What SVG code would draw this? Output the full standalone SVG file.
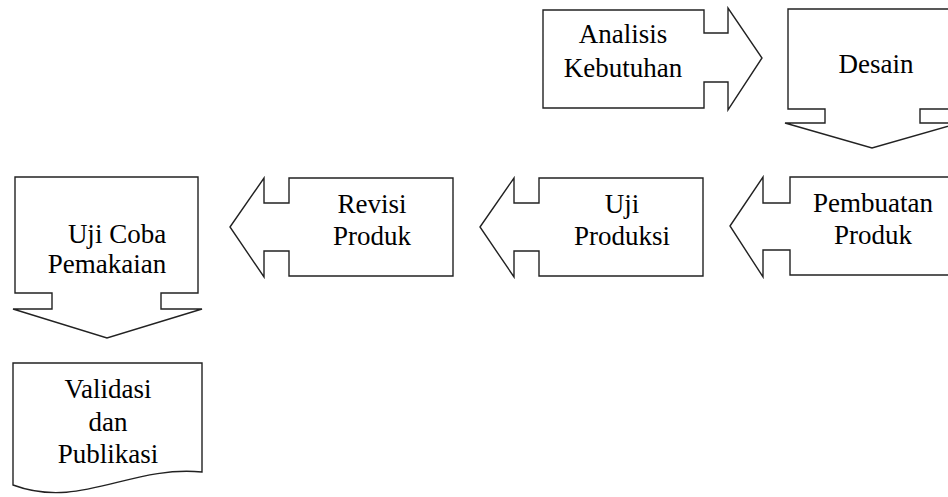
<svg xmlns="http://www.w3.org/2000/svg" width="948" height="497" viewBox="0 0 948 497">
<style>
.s{fill:#fff;stroke:#222;stroke-width:1.4;stroke-linejoin:miter}
.t{font-family:"Liberation Serif","Times New Roman",serif;font-size:27px;fill:#000;text-anchor:middle}
</style>
<rect width="948" height="497" fill="#fff"/>
<g id="connectors"></g>
<g id="analisis">
<path class="s" d="M543,10 H704 V33 H728 V8 L762,58 L728,110 V82 H704 V108 H543 Z"/>
<text class="t" x="623" y="43">Analisis</text>
<text class="t" x="623" y="77">Kebutuhan</text>
</g>
<g id="desain">
<path class="s" d="M788,9 H956 V109 H920 V123 H959 L872,148 L785,123 H825 V109 H788 Z"/>
<text class="t" x="876" y="73">Desain</text>
</g>
<g id="pembuatan">
<path class="s" d="M730,226 L763,177 V203 H790 V177 H955 V275 H790 V250 H763 V277 Z"/>
<text class="t" x="873" y="212">Pembuatan</text>
<text class="t" x="873" y="244">Produk</text>
</g>
<g id="uji-produksi">
<path class="s" d="M480,227 L514,178 V203 H539 V178 H703 V276 H539 V251 H514 V277 Z"/>
<text class="t" x="622" y="213">Uji</text>
<text class="t" x="622" y="245">Produksi</text>
</g>
<g id="revisi">
<path class="s" d="M230,227 L264,178 V203 H289 V178 H453 V276 H289 V251 H264 V277 Z"/>
<text class="t" x="372" y="213">Revisi</text>
<text class="t" x="372" y="245">Produk</text>
</g>
<g id="uji-coba">
<path class="s" d="M15,177 H198 V293 H161 V309 H202 L107,338 L13,309 H52 V293 H15 Z"/>
<text class="t" x="117" y="243">Uji Coba</text>
<text class="t" x="107" y="273">Pemakaian</text>
</g>
<g id="validasi">
<path class="s" d="M13,363 H202 V472 C130,465 80,510 13,485 Z"/>
<text class="t" x="108" y="398">Validasi</text>
<text class="t" x="108" y="431">dan</text>
<text class="t" x="108" y="463">Publikasi</text>
</g>
</svg>
